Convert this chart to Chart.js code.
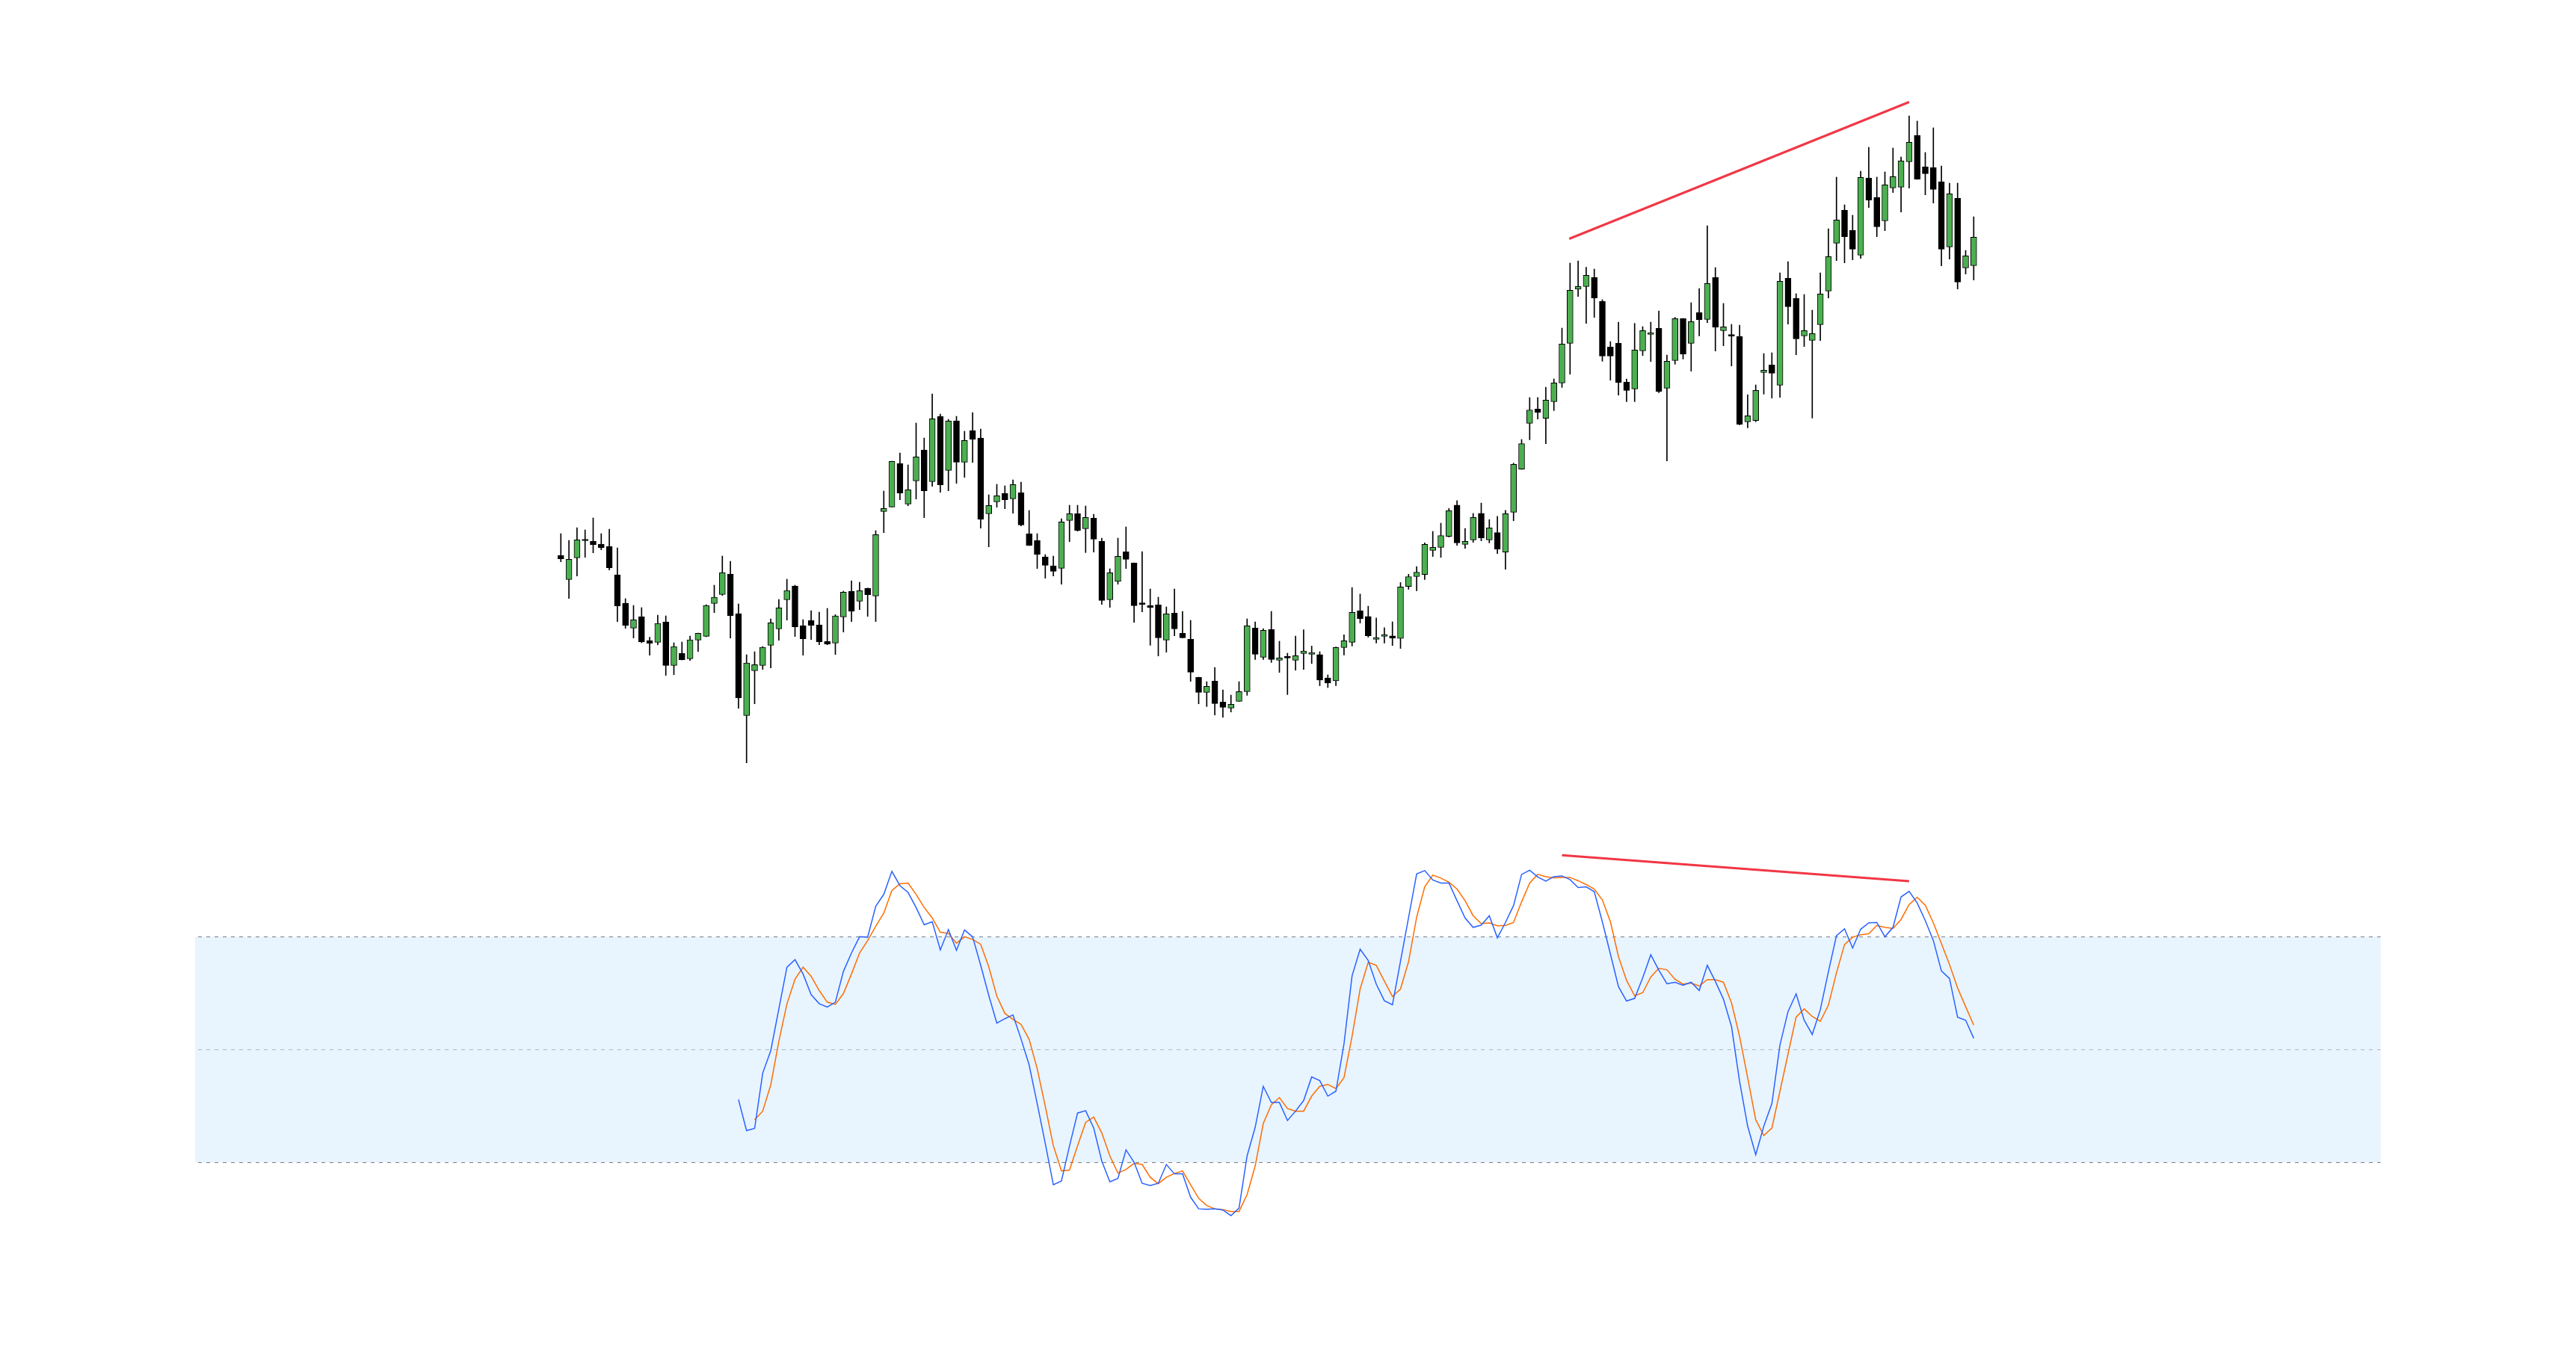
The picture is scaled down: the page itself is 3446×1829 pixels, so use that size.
<!DOCTYPE html>
<html>
<head>
<meta charset="utf-8">
<script src="https://cdn.jsdelivr.net/npm/chart.js@4.4.1/dist/chart.umd.min.js"></script>
<style>
html,body{margin:0;padding:0;background:#ffffff;}
canvas{display:block;}
</style>
</head>
<body>
<canvas id="c" width="3446" height="1829"></canvas>
<script>
// ---- price candles (index 0..175) ----
const opens = [
71.33,64.93,70.73,75.4,75.2,74.4,73.8,66.2,58.6,51.93,
55.0,48.6,48.13,53.6,41.93,45.2,43.73,48.73,49.73,58.53,
60.93,66.4,55.8,28.53,40.53,41.93,47.33,51.73,59.53,63.2,
52.6,53.93,52.8,48.33,47.93,54.93,61.8,59.13,62.6,60.53,
83.13,84.33,96.0,85.13,91.33,99.6,91.13,108.53,94.13,107.4,
96.33,104.8,102.8,82.53,85.73,88.0,86.53,88.13,77.2,75.4,
71.0,68.6,67.93,80.73,82.53,78.53,81.33,75.13,59.53,64.4,
72.33,69.33,58.4,57.93,58.13,48.73,55.93,50.53,48.93,38.73,
34.73,37.73,32.13,30.53,32.33,34.93,51.93,44.13,51.53,43.33,
44.4,43.33,45.14,44.9,44.82,38.6,37.8,46.72,48.14,56.6,
55.02,48.93,49.72,49.81,49.17,63.09,65.7,66.25,72.74,73.53,
76.45,84.84,74.32,75.51,82.62,75.51,77.48,72.26,82.94,94.49,
106.74,110.54,108.09,112.53,117.53,128.13,142.6,143.33,145.73,139.33,
127.13,128.13,117.73,115.93,126.13,130.53,132.13,116.13,123.53,134.73,
128.13,136.33,134.53,145.73,131.53,130.2,129.93,107.13,107.47,120.33,
122.33,116.93,145.53,140.13,130.13,128.93,133.13,142.13,154.93,163.73,
158.33,151.73,172.33,167.2,160.93,169.73,169.93,176.73,183.73,175.33,
175.13,171.33,153.93,166.93,148.33,148.93];
const highs = [
77.2,75.4,78.8,78.2,81.4,77.2,78.4,73.4,59.8,58.0,
57.4,49.47,55.4,55.2,48.0,48.2,49.8,50.6,58.2,63.4,
71.2,69.8,58.4,44.8,45.6,47.0,54.4,59.6,65.0,63.4,
54.2,56.6,56.2,57.2,55.53,61.8,64.6,64.2,62.65,78.0,
88.6,96.6,98.8,95.6,106.8,102.8,114.6,109.2,107.8,108.6,
104.6,109.6,105.2,87.6,90.4,90.0,91.6,91.0,83.4,77.2,
71.6,71.2,81.2,84.8,84.8,84.6,82.4,76.0,67.8,76.0,
79.0,69.4,72.4,62.4,60.2,57.6,62.4,56.4,54.0,38.8,
37.6,41.4,35.4,34.0,37.6,54.4,53.6,51.8,56.4,48.4,
45.2,49.8,51.46,47.12,45.61,39.4,46.9,50.12,62.78,61.03,
57.79,54.63,52.02,53.6,64.12,66.33,68.39,74.72,77.8,80.01,
83.97,86.03,78.59,82.62,85.39,80.96,81.83,83.42,96.07,102.4,
113.62,113.62,116.39,118.6,132.2,149.6,150.2,148.47,148.0,139.8,
128.6,133.8,118.6,133.47,132.6,133.8,136.8,125.0,135.07,134.8,
139.0,142.8,159.6,148.4,138.8,133.2,133.0,114.4,117.0,125.4,
125.6,147.0,150.0,141.4,141.2,137.0,147.0,158.8,172.6,165.2,
162.4,174.2,180.6,172.6,174.0,180.4,178.0,189.0,187.6,179.2,
185.8,175.6,171.0,171.0,153.0,162.0];
const lows = [
69.67,59.87,65.87,70.87,72.07,72.87,67.47,53.67,51.87,49.27,
48.0,44.67,47.47,39.27,39.47,43.4,43.27,45.67,49.6,56.07,
60.67,49.27,30.47,15.87,31.67,40.87,41.27,48.67,54.07,49.67,
44.67,48.87,47.47,47.47,44.87,50.87,53.67,56.87,55.07,53.67,
77.47,84.3,86.27,84.67,86.47,81.47,89.87,88.27,88.67,90.67,
92.27,96.27,78.67,73.67,84.27,83.87,82.67,79.27,74.0,67.87,
65.27,65.87,63.67,75.07,77.87,72.13,72.27,58.27,57.47,63.67,
67.87,53.47,56.27,47.33,44.47,45.47,49.87,49.3,37.67,31.67,
30.93,28.67,28.07,29.47,32.3,33.93,43.53,43.53,42.73,40.07,
34.13,40.67,40.87,42.45,36.5,36.0,36.5,44.74,47.12,53.28,
49.49,47.91,47.91,47.27,46.48,62.3,61.9,64.91,71.08,70.84,
76.3,74.08,73.29,74.87,75.27,74.72,71.87,67.68,80.65,94.4,
102.32,107.85,101.29,110.13,116.33,119.87,140.67,133.47,135.07,123.33,
118.27,114.27,112.53,112.53,124.87,123.27,114.93,96.67,122.53,123.93,
120.67,130.13,133.67,126.07,127.47,122.07,106.33,105.53,107.13,114.53,
113.47,113.67,133.27,125.07,127.27,108.13,128.87,140.27,150.27,149.67,
150.47,150.87,164.47,156.67,158.27,168.47,163.27,169.67,172.0,167.87,
165.67,148.87,150.67,142.67,146.67,145.07];
const closes = [
70.47,70.33,75.53,75.3,74.27,73.47,68.07,57.87,52.67,54.13,
48.2,47.87,53.2,41.93,47.0,43.47,48.8,50.53,58.0,60.2,
66.73,55.27,33.27,42.6,42.13,46.8,53.33,57.33,62.0,52.27,
49.07,52.67,48.27,47.67,55.2,61.53,56.47,61.93,60.87,76.93,
83.93,96.53,88.07,88.93,97.73,88.67,107.93,90.27,107.33,96.33,
102.13,102.47,81.07,84.73,87.33,86.27,90.33,79.53,74.07,71.67,
68.73,67.13,80.33,82.53,78.07,81.53,75.73,59.33,66.73,71.13,
70.33,57.93,58.27,57.47,49.33,55.73,51.73,49.33,40.13,34.73,
36.33,31.73,30.73,31.53,34.93,52.53,44.93,51.33,43.53,43.93,
43.93,44.53,45.77,45.38,38.0,37.2,46.72,48.54,56.13,54.47,
49.88,49.33,50.12,49.25,62.93,65.7,66.89,74.32,73.53,76.69,
83.34,74.72,75.11,81.52,76.06,78.75,73.06,82.54,95.75,101.29,
110.3,109.67,112.91,117.53,127.93,142.33,143.33,146.33,140.27,124.73,
124.73,117.67,115.53,126.33,131.53,130.93,115.27,123.33,134.73,125.27,
133.93,134.47,144.13,132.47,132.53,130.07,106.47,108.73,115.53,120.93,
120.13,144.73,137.93,129.33,131.53,130.73,141.33,151.33,161.13,156.67,
153.33,172.53,166.47,159.33,170.53,172.73,176.93,181.93,172.07,173.53,
169.33,153.33,168.13,144.53,151.53,156.53];

// ---- stochastic oscillator ----
const kStart = 22;   // candle index of first %K value
const stochK = [
36.7,28.4,29.0,43.7,49.7,60.8,71.9,73.9,70.1,64.6,
62.2,61.3,62.6,70.8,75.7,80.0,79.9,88.1,91.3,97.4,
93.6,91.8,87.8,83.2,84.0,76.5,81.9,76.4,81.8,80.0,
72.4,64.4,57.0,58.2,59.2,52.8,45.9,35.6,25.0,14.0,
15.0,24.3,33.1,33.7,29.1,20.3,14.8,15.7,23.3,20.0,
14.4,13.8,14.4,19.4,16.9,16.9,10.7,7.6,7.5,7.6,
7.3,5.8,7.8,21.7,29.3,40.2,35.9,35.9,31.1,33.6,
36.4,42.7,41.7,37.6,38.9,51.5,69.6,76.7,73.7,67.4,
63.0,61.9,73.5,85.1,96.7,97.6,95.1,94.3,94.3,89.6,
85.0,82.5,83.1,85.6,79.7,83.8,88.3,96.6,97.7,95.9,
94.8,96.0,96.2,95.2,93.1,93.3,92.0,84.0,75.4,66.7,
62.9,63.6,69.1,75.2,71.1,67.5,67.9,67.1,67.9,65.7,
72.4,68.1,63.4,56.1,41.5,29.6,22.0,29.6,35.6,51.2,
60.1,64.8,57.8,54.0,60.6,70.7,80.3,82.1,77.0,82.0,
83.7,83.8,80.0,82.5,90.6,92.1,89.0,84.3,79.0,70.9,
68.9,58.6,57.8,53.0];
const dStart = 24;   // candle index of first %D value
const stochD = [
31.3,33.6,40.6,52.2,62.1,68.7,71.9,69.5,65.7,62.6,
62.0,64.9,70.1,75.7,79.0,82.8,86.3,92.3,94.1,94.3,
91.3,87.8,85.0,81.2,80.9,78.3,80.0,79.3,78.0,72.0,
64.2,59.6,58.0,56.7,52.7,44.9,34.9,24.4,17.7,17.9,
24.4,30.6,32.0,27.8,21.7,17.1,18.1,19.7,19.4,16.0,
14.3,16.0,17.0,17.7,14.0,10.4,8.5,7.6,7.4,6.9,
6.9,11.4,19.0,30.3,35.3,37.2,34.3,33.6,33.6,37.6,
40.2,40.7,39.6,42.5,53.5,66.1,73.2,72.4,68.2,64.1,
66.1,73.4,85.2,93.3,96.4,95.6,94.5,92.7,89.6,85.6,
83.5,83.7,82.9,83.0,83.8,89.3,94.3,96.6,96.0,95.7,
95.8,95.8,94.9,93.9,92.7,89.8,84.0,74.7,68.4,64.3,
65.1,69.3,71.6,71.2,68.7,67.4,67.7,66.9,68.6,68.6,
67.9,62.4,53.5,42.5,31.3,27.1,29.1,38.9,48.8,58.6,
60.8,58.8,57.5,61.8,70.4,77.9,79.9,80.5,80.8,83.0,
82.5,82.2,84.6,88.6,90.5,88.4,83.7,78.2,72.6,66.4,
61.4,56.5];

// ---- divergence trend lines (candle index, value) ----
const priceTrendX = [124.9, 167.0];
const priceTrendY = [156.1, 192.7];
const stochTrendX = [124.0, 167.0];
const stochTrendY = [101.7, 94.8];

// ---- oscillator levels ----
const levelUpper = 80, levelMiddle = 50, levelLower = 20;

// ---------- build datasets ----------
const idx = opens.map((_, i) => i);
const bodyData = idx.map(i => ({x: i, y: [opens[i], closes[i]]}));
const wickData = idx.map(i => ({x: i, y: [lows[i], highs[i]]}));
const UP = '#4CAF50', DOWN = '#000000';
const bodyColors = idx.map(i => closes[i] >= opens[i] ? UP : DOWN);
const kData = stochK.map((v, j) => ({x: kStart + j, y: v}));
const dData = stochD.map((v, j) => ({x: dStart + j, y: v}));
const pTrend = priceTrendX.map((x, j) => ({x, y: priceTrendY[j]}));
const sTrend = stochTrendX.map((x, j) => ({x, y: stochTrendY[j]}));

// layout (scale ranges, in index / value units)
const X_MIN = -69.47, X_MAX = 249.6;
const BAND_X0 = -45.3, BAND_X1 = 225.4;

const bandPlugin = {
  id: 'stochBand',
  beforeDatasetsDraw(chart) {
    const {ctx, scales} = chart;
    const x = scales.x, y2 = scales.y2;
    const xl = x.getPixelForValue(BAND_X0), xr = x.getPixelForValue(BAND_X1);
    const yt = y2.getPixelForValue(levelUpper);
    const ym = y2.getPixelForValue(levelMiddle);
    const yb = y2.getPixelForValue(levelLower);
    ctx.save();
    ctx.fillStyle = 'rgba(33,150,243,0.1)';
    ctx.fillRect(xl, yt, xr - xl, yb - yt);
    ctx.lineWidth = 1;
    ctx.setLineDash([5, 6]);
    ctx.lineDashOffset = 7;
    [[yt, '#787B86'], [ym, '#B2B5BE'], [yb, '#787B86']].forEach(([yy, c]) => {
      ctx.strokeStyle = c;
      ctx.beginPath();
      ctx.moveTo(xl, Math.round(yy) + 0.5);
      ctx.lineTo(xr, Math.round(yy) + 0.5);
      ctx.stroke();
    });
    ctx.restore();
  }
};

new Chart(document.getElementById('c'), {
  type: 'bar',
  data: {
    datasets: [
      {type: 'line', data: kData, xAxisID: 'x', yAxisID: 'y2', borderColor: '#2962FF',
       borderWidth: 1.5, pointRadius: 0, tension: 0, fill: false, order: 0},
      {type: 'line', data: dData, xAxisID: 'x', yAxisID: 'y2', borderColor: '#FF6D00',
       borderWidth: 1.5, pointRadius: 0, tension: 0, fill: false, order: 0},
      {type: 'line', data: pTrend, xAxisID: 'x', yAxisID: 'y', borderColor: '#F23645',
       borderWidth: 3, pointRadius: 0, tension: 0, fill: false, order: 0},
      {type: 'line', data: sTrend, xAxisID: 'x', yAxisID: 'y2', borderColor: '#F23645',
       borderWidth: 3, pointRadius: 0, tension: 0, fill: false, order: 0},
      {type: 'bar', data: bodyData, xAxisID: 'x', yAxisID: 'y', backgroundColor: bodyColors,
       borderColor: '#000000', borderWidth: 1, borderSkipped: false, barThickness: 8,
       grouped: false, minBarLength: 2, order: 1},
      {type: 'bar', data: wickData, xAxisID: 'x', yAxisID: 'y', backgroundColor: '#000000',
       borderWidth: 0, barThickness: 1, grouped: false, order: 2}
    ]
  },
  options: {
    responsive: false,
    animation: false,
    devicePixelRatio: 1,
    layout: {padding: 0},
    plugins: {legend: {display: false}, tooltip: {enabled: false}},
    scales: {
      x: {type: 'linear', min: X_MIN, max: X_MAX, display: false, offset: false},
      y: {type: 'linear', min: -145.8, max: 220, display: false},
      y2: {type: 'linear', min: -34.49, max: 329.28, display: false}
    }
  },
  plugins: [bandPlugin]
});
</script>
</body>
</html>
